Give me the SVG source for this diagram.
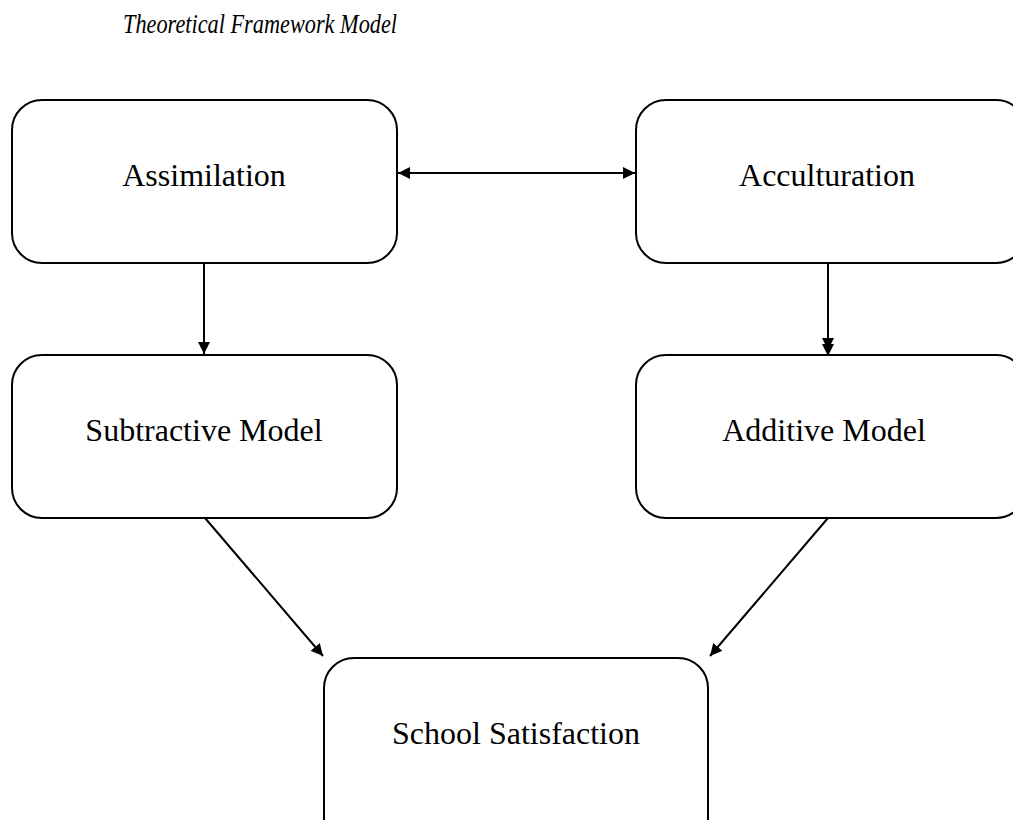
<svg xmlns="http://www.w3.org/2000/svg" width="1013" height="820" viewBox="0 0 1013 820">
<style>
.box{fill:#fff;stroke:#000;stroke-width:2}
.lbl{font-family:"Liberation Serif",serif;font-size:32px;fill:#000;text-anchor:middle}
.title{font-family:"Liberation Serif",serif;font-size:27px;font-style:italic;fill:#000}
.conn{stroke:#000;stroke-width:2;fill:none}
</style>
<defs>
<marker id="ah" viewBox="0 0 10 10" refX="10" refY="5" markerWidth="6" markerHeight="6" markerUnits="strokeWidth" orient="auto-start-reverse">
<path d="M0,0 L10,5 L0,10 z" fill="#000"/>
</marker>
</defs>
<rect width="1013" height="820" fill="#fff"/>
<text class="title" x="123" y="33" textLength="274" lengthAdjust="spacingAndGlyphs">Theoretical Framework Model</text>
<g id="assimilation"><rect class="box" x="12" y="100" width="385" height="163" rx="30"/><text class="lbl" x="204" y="186">Assimilation</text></g>
<g id="acculturation"><rect class="box" x="636" y="100" width="390" height="163" rx="30"/><text class="lbl" x="827" y="186">Acculturation</text></g>
<g id="subtractive"><rect class="box" x="12" y="355" width="385" height="163" rx="30"/><text class="lbl" x="204" y="441">Subtractive Model</text></g>
<g id="additive"><rect class="box" x="636" y="355" width="390" height="163" rx="30"/><text class="lbl" x="824" y="441">Additive Model</text></g>
<g id="school"><rect class="box" x="324" y="658" width="384" height="190" rx="30"/><text class="lbl" x="516" y="744">School Satisfaction</text></g>
<g id="connectors">
<line class="conn" x1="398" y1="173" x2="635" y2="173" marker-start="url(#ah)" marker-end="url(#ah)"/>
<line class="conn" x1="204" y1="263" x2="204" y2="354" marker-end="url(#ah)"/>
<line class="conn" x1="828" y1="263" x2="828" y2="350" marker-end="url(#ah)"/>
<line class="conn" x1="828" y1="345" x2="828" y2="356" marker-end="url(#ah)"/>
<line class="conn" x1="205" y1="518" x2="323" y2="656" marker-end="url(#ah)"/>
<line class="conn" x1="828" y1="518" x2="710" y2="656" marker-end="url(#ah)"/>
</g>
</svg>
